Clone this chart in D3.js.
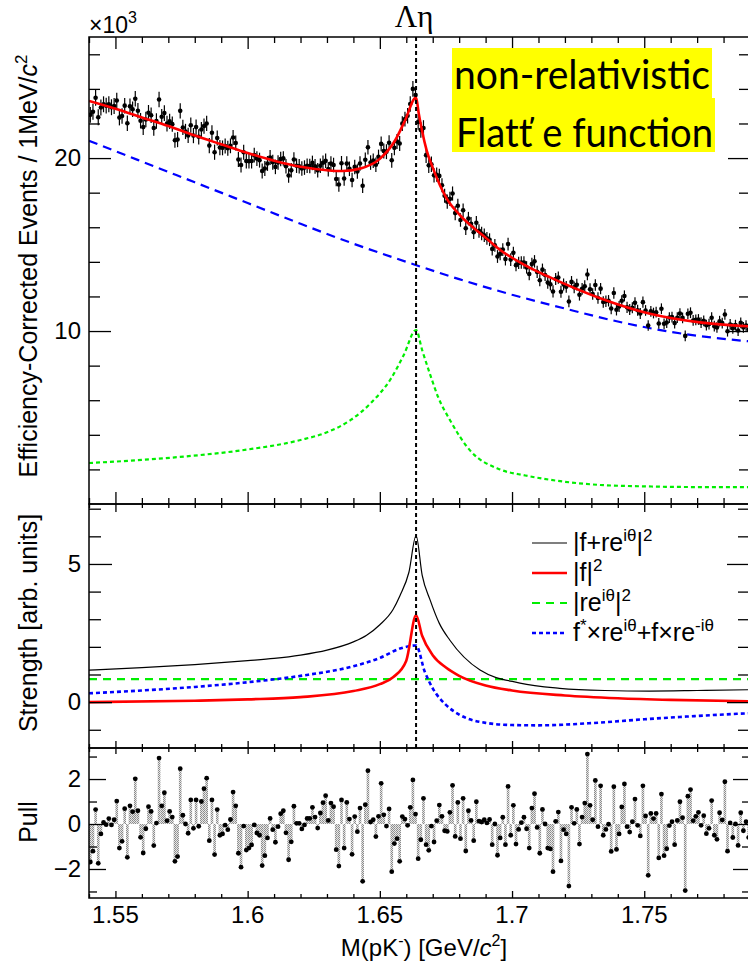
<!DOCTYPE html>
<html>
<head>
<meta charset="utf-8">
<script src="https://cdn.jsdelivr.net/npm/d3@7/dist/d3.min.js"></script>
<style>
  html, body { margin: 0; padding: 0; background: #fff; }
  svg { display: block; font-family: "Liberation Sans", Arial, sans-serif; }
</style>
</head>
<body>
<svg id="chart" width="748" height="964"></svg>
<script>
// ---- mass axis (GeV/c^2), 1 MeV bins ----
const massDomain = [1.54, 1.79];
const binWidth = 0.001;
const thresholdMass = 1.6637;           // Λη threshold
const massMajorTicks = [1.55, 1.6, 1.65, 1.7, 1.75];
const massTickLabels = ["1.55", "1.6", "1.65", "1.7", "1.75"];

const eventsMajorTicks = [10, 20];
const strengthMajorTicks = [0, 5];
const pullMajorTicks = [-2, 0, 2];
const pullTickLabels = ["\u22122", "0", "2"];

// ---- efficiency-corrected events per MeV (×10^3) ----
const eventCounts = [
  22.50, 22.68, 23.49, 22.36, 22.92, 23.11, 23.03, 23.11, 22.94, 23.01,
  23.33, 22.34, 22.43, 23.03, 22.01, 22.99, 22.82, 23.43, 22.74, 22.16,
  21.79, 22.23, 22.62, 22.48, 21.74, 22.14, 23.39, 22.39, 22.60, 21.99,
  22.12, 21.96, 21.03, 21.07, 22.73, 21.77, 21.54, 21.31, 21.90, 21.30,
  21.79, 21.23, 21.65, 21.85, 22.00, 20.72, 21.46, 20.34, 21.16, 20.61,
  20.59, 20.70, 20.57, 20.71, 21.19, 20.87, 19.92, 19.60, 20.34, 19.83,
  19.82, 19.83, 20.17, 19.97, 19.88, 19.25, 19.40, 19.69, 20.03, 19.76,
  19.49, 19.75, 19.95, 19.98, 19.53, 18.99, 19.29, 19.92, 19.56, 19.53,
  19.40, 19.45, 19.56, 19.54, 19.72, 19.52, 19.29, 19.56, 19.73, 19.84,
  19.36, 19.68, 19.60, 18.79, 18.47, 19.70, 18.82, 19.68, 19.38, 18.73,
  19.49, 19.23, 19.69, 18.40, 19.90, 20.62, 19.74, 19.85, 19.61, 20.07,
  20.82, 20.41, 20.37, 20.89, 19.87, 20.59, 20.96, 20.84, 21.99, 22.25,
  22.45, 23.13, 24.00, 23.64, 22.09, 21.63, 21.74, 20.17, 19.58, 19.64,
  19.00, 19.04, 18.97, 18.43, 17.82, 17.48, 17.64, 17.95, 16.82, 17.24,
  16.42, 16.98, 15.94, 16.50, 16.20, 15.71, 16.26, 15.79, 15.64, 15.54,
  15.36, 15.28, 14.74, 14.95, 14.31, 14.46, 14.71, 14.16, 15.03, 14.13,
  14.52, 13.81, 13.94, 13.96, 13.96, 13.68, 13.30, 13.87, 14.03, 13.42,
  12.94, 13.55, 13.24, 12.80, 12.70, 12.29, 13.01, 13.09, 12.27, 12.69,
  12.56, 11.71, 12.84, 12.53, 12.68, 12.10, 12.44, 12.59, 13.27, 12.42,
  12.14, 12.66, 11.91, 12.45, 11.68, 11.72, 11.75, 11.30, 12.20, 11.23,
  11.42, 11.75, 12.03, 11.37, 11.25, 11.35, 11.63, 11.20, 11.01, 11.67,
  11.19, 10.32, 11.14, 11.04, 11.09, 10.44, 11.29, 10.42, 10.49, 10.78,
  10.81, 10.46, 10.77, 11.01, 10.76, 9.72, 11.00, 11.06, 10.61, 10.65,
  10.67, 10.48, 10.59, 10.34, 10.40, 10.77, 10.28, 10.21, 10.57, 10.46,
  10.96, 9.99, 10.38, 10.16, 10.34, 10.03, 10.47, 10.21, 10.32, 10.09
];
// statistical error (×10^3), one value per 10 MeV
const eventErrors = [
  0.46, 0.45, 0.45, 0.44, 0.44, 0.43, 0.43, 0.42, 0.42, 0.42, 0.42, 0.43, 0.45,
  0.41, 0.39, 0.37, 0.36, 0.35, 0.34, 0.33, 0.32, 0.31, 0.31, 0.31, 0.31
];

// ---- fit components in the upper panel (mass, ×10^3) ----
const totalFit = [
  [1.540, 23.3], [1.550, 22.85], [1.560, 22.35], [1.570, 21.85], [1.580, 21.3],
  [1.590, 20.8], [1.600, 20.3], [1.610, 19.85], [1.620, 19.5], [1.630, 19.3],
  [1.636, 19.25], [1.6425, 19.39], [1.6501, 19.97], [1.6557, 21.0], [1.6595, 22.16],
  [1.6637, 23.5], [1.6647, 22.6], [1.6660, 21.55], [1.6677, 20.45], [1.670, 19.45],
  [1.6753, 17.66], [1.6803, 16.7], [1.690, 15.4], [1.6954, 14.7], [1.705, 13.8],
  [1.7144, 13.1], [1.7333, 11.9], [1.7522, 11.0], [1.7711, 10.5], [1.790, 10.27]
];
const backgroundFit = [
  [1.54, 21.0], [1.56, 19.8], [1.58, 18.6], [1.60, 17.4], [1.62, 16.2],
  [1.64, 15.05], [1.66, 14.0], [1.68, 13.0], [1.70, 12.1], [1.72, 11.3],
  [1.74, 10.55], [1.76, 9.95], [1.78, 9.55], [1.79, 9.4]
];
const signalFit = [
  [1.540, 2.37], [1.560, 2.55], [1.582, 2.83], [1.600, 3.15], [1.620, 3.7],
  [1.630, 4.15], [1.639, 4.86], [1.647, 5.9], [1.654, 7.2], [1.659, 8.6],
  [1.6637, 10.06], [1.666, 8.9], [1.669, 7.5], [1.672, 6.2], [1.6765, 4.86],
  [1.6841, 3.1], [1.6954, 2.0], [1.705, 1.65], [1.7144, 1.4], [1.7333, 1.1],
  [1.750, 1.02], [1.7711, 0.98], [1.790, 0.98]
];

// ---- amplitude strengths (arb. units) ----
const fullStrength = [
  [1.54, 1.16], [1.56, 1.25], [1.58, 1.36], [1.60, 1.5], [1.61, 1.58],
  [1.62, 1.7], [1.63, 1.88], [1.64, 2.18], [1.645, 2.42], [1.65, 2.8],
  [1.655, 3.35], [1.6576, 3.85], [1.661, 4.7], [1.6637, 6.03], [1.666, 4.6],
  [1.669, 3.7], [1.6725, 2.85], [1.6765, 2.24], [1.6879, 1.16], [1.703, 0.69],
  [1.718, 0.5], [1.735, 0.42], [1.752, 0.40], [1.77, 0.42], [1.79, 0.45]
];
const resonanceStrength = [
  [1.54, 0.0], [1.58, 0.05], [1.60, 0.1], [1.62, 0.18], [1.64, 0.4],
  [1.65, 0.65], [1.655, 0.9], [1.66, 1.5], [1.6637, 3.14], [1.666, 2.4],
  [1.67, 1.7], [1.675, 1.25], [1.68, 0.95], [1.69, 0.6], [1.70, 0.42],
  [1.72, 0.24], [1.74, 0.14], [1.76, 0.08], [1.79, 0.03]
];
const nonResonantStrength = [[1.54, 0.83], [1.79, 0.83]];
const interferenceStrength = [
  [1.54, 0.32], [1.58, 0.55], [1.60, 0.72], [1.62, 0.95], [1.64, 1.3],
  [1.65, 1.6], [1.658, 1.95], [1.6637, 2.05], [1.667, 1.1], [1.67, 0.5],
  [1.675, -0.1], [1.68, -0.45], [1.69, -0.75], [1.70, -0.83], [1.71, -0.84],
  [1.73, -0.76], [1.75, -0.62], [1.77, -0.5], [1.79, -0.4]
];

// ---- pulls per 1 MeV bin ----
const pullValues = [
  -1.69, -1.21, 0.64, -1.75, -0.44, 0.07, -0.03, 0.24, -0.04, 0.19,
  1.02, -1.07, -0.77, 0.68, -1.48, 0.81, 0.55, 2.01, 0.59, -0.59,
  -1.29, -0.21, 0.77, 0.56, -0.96, 0.04, 2.93, 0.81, 1.39, 0.15,
  0.56, 0.31, -1.66, -1.45, 2.46, 0.39, 0.0, -0.41, 1.07, -0.19,
  1.07, -0.1, 1.0, 1.57, 2.04, -0.74, 1.07, -1.36, 0.64, -0.5,
  -0.44, -0.05, -0.25, 0.2, 1.42, 0.81, -1.3, -1.92, -0.09, -1.16,
  -1.07, -0.93, -0.04, -0.4, -0.5, -1.85, -1.41, -0.62, 0.25, -0.25,
  -0.81, -0.12, 0.46, 0.59, -0.39, -1.59, -0.79, 0.79, 0.03, 0.03,
  -0.22, -0.04, 0.25, 0.25, 0.74, 0.31, -0.18, 0.49, 0.95, 1.26,
  0.16, 0.93, 0.77, -1.14, -1.87, 1.07, -1.07, 0.96, 0.22, -1.35,
  0.33, -0.34, 0.71, -2.55, 0.86, 2.37, 0.09, 0.19, -0.56, 0.34,
  1.81, 0.41, -0.09, 0.67, -2.12, -0.87, -0.65, -1.66, 0.33, 0.22,
  -0.06, 0.74, 1.96, 0.44, -1.54, -0.7, 1.14, -0.92, -1.17, -0.09,
  -0.8, 0.15, 0.84, 0.34, -0.3, -0.33, 0.52, 1.72, -0.55, 0.96,
  -0.65, 1.14, -1.2, 0.59, 0.16, -0.74, 0.99, 0.13, 0.09, 0.19,
  0.05, 0.2, -0.92, 0.0, -1.39, -0.62, 0.3, -0.92, 1.67, -0.5,
  0.83, -0.89, -0.24, 0.06, 0.3, -0.21, -1.07, 0.71, 1.35, -0.15,
  -1.3, 0.65, 0.0, -1.07, -1.11, -2.12, 0.12, 0.53, -1.64, -0.25,
  -0.44, -2.76, 0.74, 0.03, 0.65, -0.89, 0.31, 0.93, 3.11, 0.83,
  0.19, 1.94, -0.12, 1.7, -0.5, -0.24, -0.01, -1.22, 1.66, -1.13,
  -0.44, 0.76, 1.78, -0.12, -0.36, 0.1, 1.11, -0.06, -0.53, 1.7,
  0.36, -2.28, 0.47, 0.24, 0.47, -1.51, 1.33, -1.41, -1.1, -0.07,
  0.1, -0.92, 0.16, 0.99, 0.28, -2.96, 1.24, 1.53, 0.15, 0.34,
  0.52, -0.06, 0.37, -0.43, -0.19, 1.04, -0.5, -0.68, 0.5, 0.18,
  1.88, -1.21, 0.05, -0.6, 0.0, -0.95, 0.5, -0.3, 0.1, -0.6
];

// ---- legend entries ----
const legendEntries = [
  { parts: [["|f+re", 0], ["i\u03b8", 1], ["|", 0], ["2", 1]], color: "#000", width: 1.2, dash: null },
  { parts: [["|f|", 0], ["2", 1]], color: "#ff0000", width: 2.6, dash: null },
  { parts: [["|re", 0], ["i\u03b8", 1], ["|", 0], ["2", 1]], color: "#00ee00", width: 2.2, dash: "8,6" },
  { parts: [["f", 0], ["*", 1], ["\u00d7re", 0], ["i\u03b8", 1], ["+f\u00d7re", 0], ["-i\u03b8", 1]], color: "#0000ff", width: 2.6, dash: "4,3" }
];

// ================= drawing =================
const svg = d3.select("#chart");
const plotLeft = 89, plotRight = 750;
const panel = { top: [37, 504], mid: [504, 748], pull: [748, 898] };

const x = d3.scaleLinear().domain(massDomain).range([plotLeft, plotRight]);
const yTop = d3.scaleLinear().domain([0, 27]).range([panel.top[1], panel.top[0]]);
const yMid = d3.scaleLinear().domain([-1.66, 7.17]).range([panel.mid[1], panel.mid[0]]);
const yPull = d3.scaleLinear().domain([-3.29, 3.38]).range([panel.pull[1], panel.pull[0]]);

const massMinorTicks = d3.range(154, 180).map(d => d / 100).filter(d => !massMajorTicks.some(m => Math.abs(m - d) < 1e-6));

// clip paths per panel
const defs = svg.append("defs");
Object.entries(panel).forEach(([k, [y0, y1]]) => {
  defs.append("clipPath").attr("id", "clip-" + k)
    .append("rect").attr("x", plotLeft).attr("y", y0).attr("width", plotRight - plotLeft).attr("height", y1 - y0);
});
// stipple fill for the pull bars
const pat = defs.append("pattern").attr("id", "stipple").attr("patternUnits", "userSpaceOnUse")
  .attr("width", 2).attr("height", 2);
pat.append("rect").attr("width", 2).attr("height", 2).attr("fill", "#e4e4e4");
pat.append("rect").attr("width", 1).attr("height", 1).attr("fill", "#8a8a8a");
pat.append("rect").attr("x", 1).attr("y", 1).attr("width", 1).attr("height", 1).attr("fill", "#8a8a8a");

// ---- axes helpers ----
function drawYAxis(scale, majors, minors, labels, majorLen, minorLen) {
  const g = svg.append("g");
  const add = (side, values, len, withLabels) => {
    const ax = (side === "left" ? d3.axisLeft(scale) : d3.axisRight(scale))
      .tickValues(values).tickSize(-len).tickPadding(withLabels ? 8 : 0)
      .tickFormat((d, i) => withLabels ? labels[i] : "");
    const a = g.append("g").attr("transform", `translate(${side === "left" ? plotLeft : plotRight},0)`).call(ax);
    a.select(".domain").remove();
    a.selectAll("line").attr("stroke", "#000").attr("stroke-width", 1.3);
    a.selectAll("text").attr("font-size", 24).attr("fill", "#000").attr("font-family", "Liberation Sans, Arial, sans-serif");
  };
  add("left", majors, majorLen, true);
  add("left", minors, minorLen, false);
  add("right", majors, majorLen, false);
  add("right", minors, minorLen, false);
}
function drawXTicks(yPos, dir, majorLen, minorLen) {
  // dir = +1: ticks point down, -1: ticks point up
  const g = svg.append("g");
  const ax = (vals, len) => {
    const a = (dir > 0 ? d3.axisTop(x) : d3.axisBottom(x)).tickValues(vals).tickSize(-len).tickFormat("");
    const s = g.append("g").attr("transform", `translate(0,${yPos})`).call(a);
    s.select(".domain").remove();
    s.selectAll("line").attr("stroke", "#000").attr("stroke-width", 1.3);
  };
  ax(massMajorTicks, majorLen);
  ax(massMinorTicks, minorLen);
}

// ===== upper panel =====
const topG = svg.append("g").attr("clip-path", "url(#clip-top)");
const lineTop = d3.line().x(d => x(d[0])).y(d => yTop(d[1])).curve(d3.curveMonotoneX);
topG.append("path").datum(signalFit).attr("d", lineTop).attr("fill", "none")
  .attr("stroke", "#00ee00").attr("stroke-width", 2.2).attr("stroke-dasharray", "4,3");
topG.append("path").datum(backgroundFit).attr("d", lineTop).attr("fill", "none")
  .attr("stroke", "#0000ff").attr("stroke-width", 2.2).attr("stroke-dasharray", "9,6");

// data points with error bars
const pts = topG.append("g");
eventCounts.forEach((v, i) => {
  const m = massDomain[0] + (i + 0.5) * binWidth;
  const e = eventErrors[Math.floor(i / 10)];
  pts.append("line").attr("x1", x(m)).attr("x2", x(m)).attr("y1", yTop(v - e)).attr("y2", yTop(v + e))
    .attr("stroke", "#000").attr("stroke-width", 1.2);
  pts.append("circle").attr("cx", x(m)).attr("cy", yTop(v)).attr("r", 2.3).attr("fill", "#000");
});
topG.append("path").datum(totalFit).attr("d", lineTop).attr("fill", "none")
  .attr("stroke", "#ff0000").attr("stroke-width", 2.6);

drawYAxis(yTop, eventsMajorTicks, d3.range(2, 27, 2).filter(d => d % 10 !== 0), ["10", "20"], 22, 11);
drawXTicks(panel.top[0], 1, 12, 6);
drawXTicks(panel.top[1], -1, 12, 6);

// ===== middle panel =====
const midG = svg.append("g").attr("clip-path", "url(#clip-mid)");
const lineMid = d3.line().x(d => x(d[0])).y(d => yMid(d[1])).curve(d3.curveMonotoneX);
midG.append("path").datum(nonResonantStrength).attr("d", lineMid).attr("fill", "none")
  .attr("stroke", "#00ee00").attr("stroke-width", 2.2).attr("stroke-dasharray", "8,6");
midG.append("path").datum(interferenceStrength).attr("d", lineMid).attr("fill", "none")
  .attr("stroke", "#0000ff").attr("stroke-width", 2.6).attr("stroke-dasharray", "4,3");
midG.append("path").datum(resonanceStrength).attr("d", lineMid).attr("fill", "none")
  .attr("stroke", "#ff0000").attr("stroke-width", 2.6);
midG.append("path").datum(fullStrength).attr("d", lineMid).attr("fill", "none")
  .attr("stroke", "#000").attr("stroke-width", 1.2);

drawYAxis(yMid, strengthMajorTicks, [-1, 1, 2, 3, 4, 6, 7], ["0", "5"], 23, 12);
drawXTicks(panel.mid[0], 1, 8, 4);
drawXTicks(panel.mid[1], -1, 7, 4);

// legend
const leg = svg.append("g");
legendEntries.forEach((e, i) => {
  const ly = 543 + i * 30;
  leg.append("line").attr("x1", 532).attr("x2", 567).attr("y1", ly).attr("y2", ly)
    .attr("stroke", e.color).attr("stroke-width", e.width).attr("stroke-dasharray", e.dash);
  const t = leg.append("text").attr("x", 573).attr("y", ly + 8).attr("font-size", 25).attr("fill", "#000");
  e.parts.forEach(([s, sup]) => {
    const ts = t.append("tspan").text(s);
    if (sup) ts.attr("font-size", 17).attr("dy", -10);
    else if (t.selectAll("tspan").size() > 1) ts.attr("dy", 10);
  });
});

// ===== pull panel =====
const pullG = svg.append("g").attr("clip-path", "url(#clip-pull)");
const bw = x(massDomain[0] + binWidth) - x(massDomain[0]);
pullValues.forEach((p, i) => {
  const m0 = massDomain[0] + i * binWidth;
  pullG.append("rect").attr("x", x(m0)).attr("width", bw)
    .attr("y", Math.min(yPull(p), yPull(0))).attr("height", Math.abs(yPull(p) - yPull(0)))
    .attr("fill", "url(#stipple)");
});
pullValues.forEach((p, i) => {
  const m = massDomain[0] + (i + 0.5) * binWidth;
  pullG.append("circle").attr("cx", x(m)).attr("cy", yPull(p)).attr("r", 2.4).attr("fill", "#000");
});
drawYAxis(yPull, pullMajorTicks, [-3, -1, 1, 3], pullTickLabels, 17, 8);
drawXTicks(panel.pull[0], 1, 6, 4);
drawXTicks(panel.pull[1], -1, 7, 4);

// x tick labels
svg.append("g").selectAll("text").data(massMajorTicks).join("text")
  .attr("x", d => x(d)).attr("y", 923).attr("text-anchor", "middle")
  .attr("font-size", 24).text((d, i) => massTickLabels[i]);

// threshold marker
svg.append("line").attr("x1", x(thresholdMass)).attr("x2", x(thresholdMass))
  .attr("y1", panel.top[0]).attr("y2", panel.mid[1])
  .attr("stroke", "#000").attr("stroke-width", 2).attr("stroke-dasharray", "4,3");

// frames
Object.values(panel).forEach(([y0, y1]) => {
  svg.append("rect").attr("x", plotLeft).attr("y", y0).attr("width", plotRight - plotLeft).attr("height", y1 - y0)
    .attr("fill", "none").attr("stroke", "#000").attr("stroke-width", 1.5);
});

// ---- texts ----
const exp = svg.append("text").attr("x", 89).attr("y", 33).attr("font-size", 23);
exp.append("tspan").text("\u00d710");
exp.append("tspan").attr("font-size", 16).attr("dy", -10).text("3");

svg.append("text").attr("x", x(thresholdMass) - 2).attr("y", 27).attr("text-anchor", "middle")
  .attr("font-family", "Liberation Serif, Times New Roman, serif").attr("font-size", 31).text("\u039b\u03b7");

function yTitle(cx, cy, parts) {
  const t = svg.append("text").attr("transform", `translate(${cx},${cy}) rotate(-90)`)
    .attr("text-anchor", "middle").attr("font-size", 25);
  parts.forEach(([s, style]) => {
    const ts = t.append("tspan").text(s);
    if (style === "i") ts.attr("font-style", "italic");
    if (style === "sup") ts.attr("font-size", 17).attr("dy", -10);
  });
}
yTitle(37, 266, [["Efficiency-Corrected Events / 1MeV/", 0], ["c", "i"], ["2", "sup"]]);
yTitle(37, 623, [["Strength [arb. units]", 0]]);
yTitle(37, 822, [["Pull", 0]]);

const xt = svg.append("text").attr("x", 424).attr("y", 956).attr("text-anchor", "middle").attr("font-size", 24);
xt.append("tspan").text("M(pK");
xt.append("tspan").attr("font-size", 16).attr("dy", -10).text("-");
xt.append("tspan").attr("dy", 10).text(") [GeV/");
xt.append("tspan").attr("font-style", "italic").text("c");
xt.append("tspan").attr("font-size", 16).attr("dy", -10).text("2");
xt.append("tspan").attr("dy", 10).text("]");

// annotation box
const box = svg.append("g");
box.append("rect").attr("x", 452).attr("y", 48).attr("width", 260).attr("height", 51).attr("fill", "#ffff00");
box.append("rect").attr("x", 452).attr("y", 98).attr("width", 263).attr("height", 54).attr("fill", "#ffff00");
box.append("text").attr("x", 454).attr("y", 89).attr("font-family", "Lato, 'Open Sans', sans-serif")
  .attr("font-size", 40).attr("textLength", 256).attr("lengthAdjust", "spacingAndGlyphs").text("non-relativistic");
box.append("text").attr("x", 456).attr("y", 147).attr("font-family", "Lato, 'Open Sans', sans-serif")
  .attr("font-size", 40).attr("textLength", 257).attr("lengthAdjust", "spacingAndGlyphs").text("Flat\u0165 e function");
</script>
</body>
</html>
